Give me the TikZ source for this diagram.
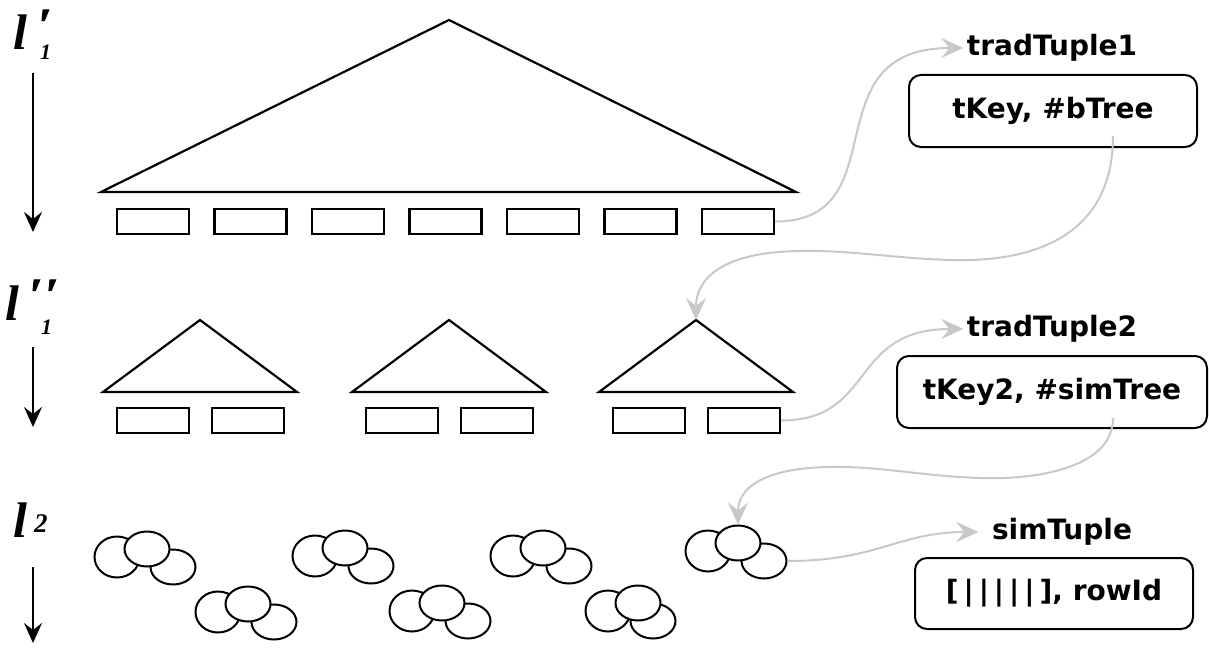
\documentclass[tikz,border=0pt]{standalone}
\usepackage{fontspec}
\setmainfont{DejaVu Sans}
\newfontfamily\levelfont{Liberation Serif}
\newfontfamily\markfont{Liberation Serif}[FakeBold=2]
\usetikzlibrary{
    arrows.meta,
    shapes.geometric,
    calc,
    positioning
}
\definecolor{linkgray}{RGB}{200,200,200}

\tikzset{
    leaf/.style={draw, line width=2.2pt, minimum width=72pt, minimum height=25pt, inner sep=0pt},
    blob/.style={draw, ellipse, fill=white, line width=2pt, minimum width=45pt, minimum height=35pt, inner sep=0pt},
    tree/.style={draw, line width=2.2pt, line join=miter},
    tuple/.style={draw, rounded corners=12pt, line width=2pt, inner sep=0pt,
        font=\bfseries\fontsize{28}{32}\selectfont},
    tuplename/.style={font=\bfseries\fontsize{28}{32}\selectfont},
    link/.style={draw=linkgray, line width=2pt,
        -{Stealth[length=22pt, width=20pt, inset=8pt]}},
    down/.style={line width=2pt, -{Stealth[length=20pt, width=18pt, inset=7pt]}},
    level/.style={anchor=base west, inner sep=0pt,
        font=\levelfont\bfseries\itshape\fontsize{50}{50}\selectfont},
    levelmark/.style={anchor=base west, inner sep=0pt,
        font=\markfont\bfseries\itshape\fontsize{46}{46}\selectfont},
    levelsub/.style={anchor=base west, inner sep=0pt,
        font=\levelfont\bfseries\itshape\fontsize{22}{22}\selectfont}
}

% a group of three overlapping records, the middle one on top
\newcommand\recgroup[4]{%
    \node[blob, minimum height=41pt] (#1a) at (#2,#3) {};
    \node[blob] (#1c) at (#2+#4,#3+10) {};
    \node[blob] (#1b) at (#2+30,#3-8) {};
}

\begin{document}
\begin{tikzpicture}[x=1pt, y=-1pt]
    \useasboundingbox (0,0) rectangle (1209,650);

    % level labels and their arrows
    \node[level] (lvl1) at (13,50) {l};
    \node[levelmark] (lvl1m) at (38,40) {′};
    \node[levelsub] (lvl1s) at (40,60) {1};
    \node[level] (lvl2) at (5,320) {l};
    \node[levelmark] (lvl2m) at (29,310) {′\kern3pt′};
    \node[levelsub] (lvl2s) at (41,334) {1};
    \node[level] (lvl3) at (13,537) {l};
    \node[levelsub, font=\levelfont\bfseries\itshape\fontsize{27}{27}\selectfont] (lvl3s) at (34,532) {2};
    \coordinate (lvl1top) at (33,73);
    \coordinate (lvl1end) at (33,232);
    \coordinate (lvl2top) at (33,347);
    \coordinate (lvl2end) at (33,427);
    \coordinate (lvl3top) at (33,567);
    \coordinate (lvl3end) at (33,643);
    \draw[down] (lvl1top) -- (lvl1end);
    \draw[down] (lvl2top) -- (lvl2end);
    \draw[down] (lvl3top) -- (lvl3end);

    % traditional b-tree
    \coordinate (top0) at (449,20);
    \draw[tree] (top0) -- (796,192) -- (101,192) -- cycle;
    \foreach \i in {1,...,7}
        \node[leaf] (leaf\i) at (153+97.5*\i-97.5,221.5) {};

    % similarity trees
    \foreach \i/\cx in {1/200, 2/449, 3/696} {
        \coordinate (top\i) at (\cx,320);
        \draw[tree] (top\i) -- (\cx+97,392) -- (\cx-97,392) -- cycle;
        \node[leaf] (sleft\i) at (\cx-47,420.5) {};
        \node[leaf] (sright\i) at (\cx+48,420.5) {};
    }

    % records
    \recgroup{rec1}{117}{557}{56}
    \recgroup{rec2}{315}{556}{56}
    \recgroup{rec3}{513}{556}{56}
    \recgroup{rec4}{708}{551}{56}
    \recgroup{rec5}{218}{612}{56}
    \recgroup{rec6}{412}{611}{56}
    \recgroup{rec7}{608}{611}{45}

    % tuples
    \node[tuplename] (name1) at (1052,48) {tradTuple1};
    \node[tuple, minimum width=288pt, minimum height=72pt] (tuple1) at (1053,111) {tKey, \#bTree};
    \node[tuplename] (name2) at (1052,329) {tradTuple2};
    \node[tuple, minimum width=310pt, minimum height=72pt] (tuple2) at (1052,392) {tKey2, \#simTree};
    \node[tuplename] (name3) at (1062,532) {simTuple};
    \node[tuple, minimum width=278pt, minimum height=71pt] (tuple3) at (1054,593.5)
        {[\kern5pt|\kern5pt|\kern5pt|\kern5pt|\kern5pt|\kern5pt], rowId};

    \coordinate (out1) at ([xshift=60pt, yshift=12pt]tuple1.south);
    \coordinate (out2) at ([xshift=61pt, yshift=11pt]tuple2.south);

    % pointers
    \draw[link] (leaf7.east) .. controls +(125,0) and +(-155,0) .. (name1.west);
    \draw[link] (out1) .. controls (1113,250) and (1010,262) .. (950,260)
        .. controls (890,258) and (850,250) .. (800,251)
        .. controls (720,252) and (696,280) .. (top3);
    \draw[link] (sright3.east) .. controls +(95,0) and +(-115,0) .. (name2.west);
    \draw[link] (out2) .. controls (1113,470) and (1030,480) .. (980,478)
        .. controls (920,476) and (880,466) .. (830,467)
        .. controls (760,468) and (738,490) .. (rec4b.north);
    \draw[link, shorten >=10pt] (rec4c.east) .. controls +(90,0) and +(-90,0) .. (name3.west);
\end{tikzpicture}
\end{document}
